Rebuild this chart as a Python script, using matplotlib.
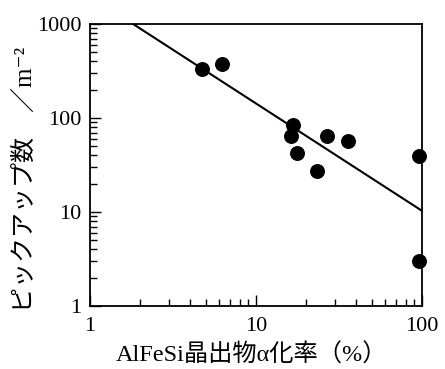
import matplotlib
matplotlib.use("Agg")
import matplotlib.pyplot as plt
from matplotlib.ticker import LogLocator, NullFormatter, FixedLocator, FixedFormatter

# values
alpha_rate = [4.7, 6.2, 16.8, 16.3, 17.7, 23.4, 26.7, 36.0, 96.0, 95.5]
pickup = [330, 380, 84, 64, 42, 27, 64, 57, 39, 3.0]
fit_x = [1.82, 100]
fit_y = [1000, 10.3]
x_ticks = [1, 10, 100]
y_ticks = [1, 10, 100, 1000]

serif = ["Liberation Serif", "Noto Sans CJK JP", "DejaVu Sans"]
plt.rcParams["font.family"] = serif

fig = plt.figure(figsize=(4.45, 3.69), dpi=100)
ax = fig.add_axes([0.2022, 0.1707, 0.7461, 0.7642])

ax.plot(fit_x, fit_y, color="black", linewidth=1.5)
ax.scatter(alpha_rate, pickup, s=95, color="black", zorder=3, clip_on=False)

ax.set_xscale("log")
ax.set_yscale("log")
ax.set_xlim(1, 100)
ax.set_ylim(1, 1000)

ax.xaxis.set_major_locator(FixedLocator(x_ticks))
ax.xaxis.set_major_formatter(FixedFormatter([str(v) for v in x_ticks]))
ax.yaxis.set_major_locator(FixedLocator(y_ticks))
ax.yaxis.set_major_formatter(FixedFormatter([str(v) for v in y_ticks]))
ax.xaxis.set_minor_locator(LogLocator(base=10, subs=range(2, 10)))
ax.yaxis.set_minor_locator(LogLocator(base=10, subs=range(2, 10)))
ax.xaxis.set_minor_formatter(NullFormatter())
ax.yaxis.set_minor_formatter(NullFormatter())

ax.tick_params(which="both", direction="in", top=False, right=False, width=1)
ax.tick_params(which="major", length=8, labelsize=16)
ax.tick_params(which="minor", length=5)
ax.tick_params(axis="x", which="major", pad=8)
ax.tick_params(axis="y", which="major", pad=6)
for spine in ax.spines.values():
    spine.set_linewidth(1.3)

fig.text(25 / 445, 1 - 179 / 369, "ピックアップ数　／m⁻²", rotation=90,
         ha="center", va="center", fontsize=18, family=serif)
fig.text(252 / 445, 1 - 355 / 369, "AlFeSi晶出物α化率（%）",
         ha="center", va="center", fontsize=17.5, family=serif)

fig.savefig("out.png", dpi=100)
